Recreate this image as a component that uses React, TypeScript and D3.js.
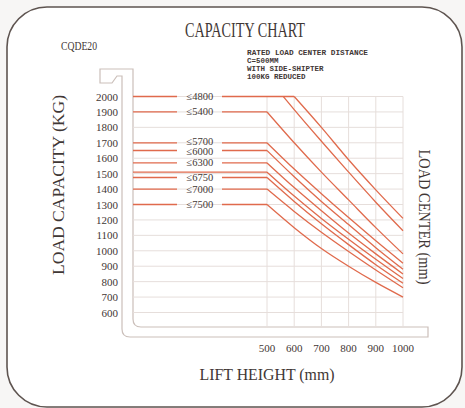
import React from "react";
import * as d3 from "d3";

const yTicks = [2000, 1900, 1800, 1700, 1600, 1500, 1400, 1300, 1200, 1100, 1000, 900, 800, 700, 600];
const xTicks = [500, 600, 700, 800, 900, 1000];

// horizontal rated capacities (kg) and their lift-height labels
const ratedCapacity = [2000, 1900, 1700, 1650, 1570, 1510, 1475, 1400, 1300];
const ratedLabels = ["≤4800", "≤5400", "≤5700", "≤6000", "≤6300", "", "≤6750", "≤7000", "≤7500"];

// capacity curves vs load center (mm)
const curveLoadA = [600, 700, 800, 900, 1000];
const curveCapA = [2000, 1800, 1590, 1395, 1210];
const curveLoadB = [560, 600, 700, 800, 900, 1000];
const curveCapB = [2000, 1915, 1710, 1510, 1315, 1130];
const curveLoad = [500, 600, 700, 800, 900, 1000];
const curveCap5400 = [1900, 1700, 1510, 1330, 1150, 980];
const curveCap5700 = [1700, 1530, 1370, 1215, 1065, 920];
const curveCap6000 = [1650, 1480, 1320, 1170, 1020, 880];
const curveCap6300 = [1570, 1410, 1260, 1115, 980, 850];
const curveCap6500 = [1510, 1355, 1210, 1075, 945, 820];
const curveCap6750 = [1475, 1320, 1175, 1040, 910, 790];
const curveCap7000 = [1400, 1255, 1120, 995, 875, 760];
const curveCap7500 = [1300, 1150, 1015, 900, 795, 700];

const W = 465;
const H = 408;
const RED = "#e06a4c";
const GRID = "#e6dedb";
const FRAME = "#cbbfba";
const TEXT = "#3f3735";

export default function App() {
  const x = d3.scaleLinear().domain([500, 1000]).range([267, 403]);
  const y = d3.scaleLinear().domain([600, 2000]).range([312.5, 96.5]);
  const frameLeft = 133;
  const gridBottom = y(500);
  const labelGap: [number, number] = [177, 222];
  const labelX = 200;
  const labelDy = [0, 0, -1.5, 0.5, 0, 0, 0, 0, 0];

  const line = d3
    .line<[number, number]>()
    .x((d) => x(d[0]))
    .y((d) => y(d[1]))
    .curve(d3.curveMonotoneX);

  const curves: [number[], number[]][] = [
    [curveLoadA, curveCapA],
    [curveLoadB, curveCapB],
    [curveLoad, curveCap5400],
    [curveLoad, curveCap5700],
    [curveLoad, curveCap6000],
    [curveLoad, curveCap6300],
    [curveLoad, curveCap6500],
    [curveLoad, curveCap6750],
    [curveLoad, curveCap7000],
    [curveLoad, curveCap7500],
  ];

  // fork/mast outline
  const framePath =
    "M133,69 H100 V83 H112 L117,76 H122 V329 Q122,337 130,337 H428 V327 H141 Q133,327 133,319 Z";

  const serif = "'Liberation Serif', 'DejaVu Serif', serif";

  return (
    <svg
      width={W}
      height={H}
      style={{ position: "absolute", left: 0, top: 0, background: "#f7f6f5" }}
    >
      <rect x={7} y={7} width={455} height={400} rx={40} ry={40} fill="#ffffff" stroke="#5e5450" strokeWidth={1.6} />

      <text x={245} y={37} textAnchor="middle" fontFamily={serif} fontSize={20} fill={TEXT} textLength={120} lengthAdjust="spacingAndGlyphs">
        CAPACITY CHART
      </text>
      <text x={61} y={50} fontFamily={serif} fontSize={12} fill={TEXT} textLength={36} lengthAdjust="spacingAndGlyphs">
        CQDE20
      </text>
      <g fontFamily="'Liberation Mono', monospace" fontWeight="bold" fontSize={7.5} fill={TEXT}>
        <text x={247} y={55} textLength={121} lengthAdjust="spacingAndGlyphs">RATED LOAD CENTER DISTANCE</text>
        <text x={247} y={63}>C=500MM</text>
        <text x={247} y={71}>WITH SIDE-SHIPTER</text>
        <text x={247} y={79}>100KG REDUCED</text>
      </g>

      <path d={framePath} fill="none" stroke={FRAME} strokeWidth={1.2} />

      {/* grid */}
      <g stroke={GRID} strokeWidth={1}>
        {yTicks.map((t) => (
          <line key={"h" + t} x1={frameLeft} x2={x(1000)} y1={y(t)} y2={y(t)} />
        ))}
        {xTicks.map((t) => (
          <line key={"v" + t} x1={x(t)} x2={x(t)} y1={y(2000)} y2={gridBottom} />
        ))}
      </g>

      {/* y tick labels */}
      <g fontFamily={serif} fontSize={11} fill={TEXT} textAnchor="end">
        {yTicks.map((t) => (
          <text key={"yl" + t} x={118} y={y(t) + 4}>
            {t}
          </text>
        ))}
      </g>
      {/* x tick labels */}
      <g fontFamily={serif} fontSize={11} fill={TEXT} textAnchor="middle">
        {xTicks.map((t) => (
          <text key={"xl" + t} x={x(t)} y={352}>
            {t}
          </text>
        ))}
      </g>

      {/* rated horizontal lines */}
      <g stroke={RED} strokeWidth={1.3} fill="none">
        {ratedCapacity.map((c, i) => {
          const knee = i === 0 ? x(curveLoadA[0]) : x(500);
          const yy = y(c);
          if (ratedLabels[i]) {
            return (
              <g key={"r" + i}>
                <line x1={frameLeft} x2={labelGap[0]} y1={yy} y2={yy} />
                <line x1={labelGap[1]} x2={knee} y1={yy} y2={yy} />
              </g>
            );
          }
          return <line key={"r" + i} x1={frameLeft} x2={knee} y1={yy} y2={yy} />;
        })}
        {curves.map(([ls, cs], i) => (
          <path key={"c" + i} d={line(ls.map((l, j) => [l, cs[j]] as [number, number])) || ""} />
        ))}
      </g>
      <g fontFamily={serif} fontSize={10.5} fill={TEXT} textAnchor="middle">
        {ratedCapacity.map((c, i) =>
          ratedLabels[i] ? (
            <text key={"rl" + i} x={labelX} y={y(c) + 3.5 + labelDy[i]}>
              {ratedLabels[i]}
            </text>
          ) : null
        )}
      </g>

      <text
        transform={`translate(64,185) rotate(-90)`}
        textAnchor="middle"
        fontFamily={serif}
        fontSize={16}
        fill={TEXT}
        textLength={180}
        lengthAdjust="spacingAndGlyphs"
      >
        LOAD CAPACITY (KG)
      </text>
      <text
        transform={`translate(419,217) rotate(90)`}
        textAnchor="middle"
        fontFamily={serif}
        fontSize={16}
        fill={TEXT}
        textLength={135}
        lengthAdjust="spacingAndGlyphs"
      >
        LOAD CENTER (mm)
      </text>
      <text x={267} y={380} textAnchor="middle" fontFamily={serif} fontSize={17} fill={TEXT} textLength={135} lengthAdjust="spacingAndGlyphs">
        LIFT HEIGHT (mm)
      </text>
    </svg>
  );
}
